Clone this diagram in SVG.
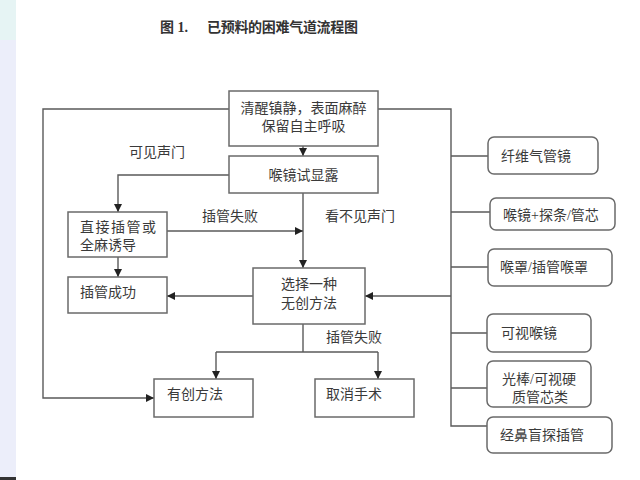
<svg xmlns="http://www.w3.org/2000/svg" width="640" height="480" viewBox="0 0 640 480">
<defs>
<marker id="ah" viewBox="0 0 10 10" refX="10" refY="5" markerWidth="8" markerHeight="8" markerUnits="userSpaceOnUse" orient="auto">
<path d="M0,0 L10,5 L0,10 Z" fill="#222"/>
</marker>
<style>
.box{fill:#fff;stroke:#6a6a6a;stroke-width:1.5}
.rbox{fill:#fff;stroke:#6a6a6a;stroke-width:1.5}
.ln{fill:none;stroke:#5a5a5a;stroke-width:1.4}
.t{font-family:"Liberation Serif","Noto Sans CJK SC",serif;font-size:14px;fill:#3a3a3a}
.c{text-anchor:middle}
.title{font-family:"Liberation Serif","Noto Sans CJK SC",serif;font-size:14px;font-weight:bold;fill:#333}
</style>
</defs>
<rect width="640" height="480" fill="#fff"/>
<rect x="0" y="0" width="16" height="478" fill="#eceefa"/>
<rect x="0" y="0" width="16" height="40" fill="#e6f4f4"/>
<rect x="0" y="477" width="16" height="3" fill="#333"/>
<text class="title" x="160" y="32">图 1.</text>
<text class="title" x="207" y="32" letter-spacing="-0.3">已预料的困难气道流程图</text>

<g id="connectors">
<path class="ln" d="M229,109 H43 V398 H154" marker-end="url(#ah)"/>
<path class="ln" d="M378,109 H451 V426 H487"/>
<path class="ln" d="M303,146 V156" marker-end="url(#ah)"/>
<path class="ln" d="M229,175 H118 V212" marker-end="url(#ah)"/>
<path class="ln" d="M303,193 V268" marker-end="url(#ah)"/>
<path class="ln" d="M167,231 H303" marker-end="url(#ah)"/>
<path class="ln" d="M118,257 V277" marker-end="url(#ah)"/>
<path class="ln" d="M253,296 H167" marker-end="url(#ah)"/>
<path class="ln" d="M451,296 H365" marker-end="url(#ah)"/>
<path class="ln" d="M303,324 V352"/>
<path class="ln" d="M216,352 H378"/>
<path class="ln" d="M216,352 V379" marker-end="url(#ah)"/>
<path class="ln" d="M378,352 V379" marker-end="url(#ah)"/>
<path class="ln" d="M451,156 H488"/>
<path class="ln" d="M451,212 H490"/>
<path class="ln" d="M451,267 H488"/>
<path class="ln" d="M451,333 H487"/>
<path class="ln" d="M451,388 H487"/>
<text class="t" x="129" y="157">可见声门</text>
<text class="t" x="202" y="221">插管失败</text>
<text class="t" x="325" y="221">看不见声门</text>
<text class="t" x="326" y="342">插管失败</text>
</g>

<g id="n1"><rect class="box" x="229" y="91" width="149" height="55"/>
<text class="t c" x="303.5" y="113">清醒镇静，表面麻醉</text>
<text class="t c" x="303.5" y="131">保留自主呼吸</text></g>
<g id="n2"><rect class="box" x="229" y="156" width="149" height="37"/>
<text class="t c" x="303.5" y="180">喉镜试显露</text></g>
<g id="n3"><rect class="box" x="68" y="212" width="99" height="45"/>
<text class="t" x="80" y="232" letter-spacing="1.5">直接插管或</text>
<text class="t" x="80" y="250">全麻诱导</text></g>
<g id="n4"><rect class="box" x="68" y="277" width="99" height="36"/>
<text class="t" x="80" y="297">插管成功</text></g>
<g id="n5"><rect class="box" x="253" y="268" width="112" height="56"/>
<text class="t c" x="309" y="289">选择一种</text>
<text class="t c" x="309" y="308">无创方法</text></g>
<g id="n6"><rect class="box" x="154" y="379" width="99" height="38"/>
<text class="t" x="167" y="399">有创方法</text></g>
<g id="n7"><rect class="box" x="315" y="379" width="99" height="38"/>
<text class="t" x="326" y="399">取消手术</text></g>

<g id="r1"><rect class="rbox" x="488" y="137" width="110" height="37" rx="6"/>
<text class="t" x="501" y="161">纤维气管镜</text></g>
<g id="r2"><rect class="rbox" x="490" y="198" width="125" height="32" rx="6"/>
<text class="t" x="503" y="220">喉镜+探条/管芯</text></g>
<g id="r3"><rect class="rbox" x="488" y="249" width="124" height="37" rx="6"/>
<text class="t" x="500" y="272">喉罩/插管喉罩</text></g>
<g id="r4"><rect class="rbox" x="487" y="314" width="104" height="38" rx="6"/>
<text class="t" x="501" y="338">可视喉镜</text></g>
<g id="r5"><rect class="rbox" x="487" y="361" width="104" height="46" rx="6"/>
<text class="t c" x="539" y="384">光棒/可视硬</text>
<text class="t c" x="540" y="402">质管芯类</text></g>
<g id="r6"><rect class="rbox" x="487" y="417" width="125" height="36" rx="6"/>
<text class="t" x="500" y="440">经鼻盲探插管</text></g>
</svg>
